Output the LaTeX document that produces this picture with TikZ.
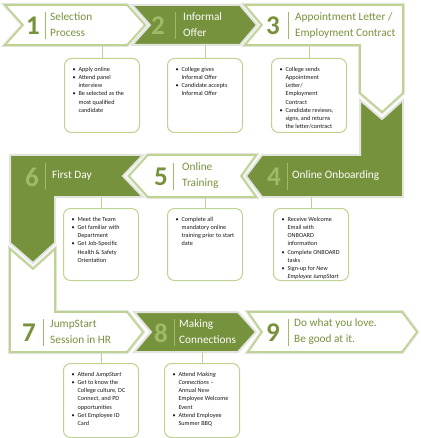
\documentclass[tikz,border=0pt]{standalone}
\usepackage{fontspec}
\setmainfont{Carlito}
\usetikzlibrary{positioning}
\definecolor{olive}{RGB}{118,146,60}
\definecolor{olivelt}{RGB}{160,186,104}
\definecolor{rim}{RGB}{190,211,146}
\definecolor{shade}{RGB}{226,228,222}
\definecolor{ink}{RGB}{25,25,25}
\tikzset{
  wshape/.style ={fill=white, draw=rim, line width=1.7pt, preaction={draw=shade, line width=4pt}},
  gshape/.style ={fill=olive, draw=shade, line width=2pt},
  wnum/.style   ={font=\fontsize{27}{27}\selectfont\bfseries, color=olive, inner sep=0pt},
  gnum/.style   ={wnum, color=olivelt},
  wtitle/.style ={font=\fontsize{11.3}{16}\selectfont, color=olive, anchor=west, align=left, inner sep=0pt},
  gtitle/.style ={wtitle, color=white},
  wsep/.style   ={draw=olivelt, line width=0.8pt},
  gsep/.style   ={draw=olivelt, line width=0.8pt},
  box/.style    ={draw=rim, line width=1pt, rounded corners=7pt, fill=white, anchor=north,
                  inner xsep=8pt, inner ysep=7pt, font=\fontsize{6.2}{8.2}\selectfont, text=ink},
  link/.style   ={draw=rim, line width=0.8pt},
}

\begin{document}
\begin{tikzpicture}[x=1pt, y=-1pt]
\useasboundingbox (0,0) rectangle (420,438);

% row 1
\draw[wshape] (5,5) -- (127,5) -- (145,25) -- (127,45) -- (5,45) -- (23,25) -- cycle;
\draw[gshape] (132,5) -- (240,5) -- (257,25) -- (240,45) -- (132,45) -- (150,25) -- cycle;
\draw[wshape] (245,5) -- (403,5) -- (403,93) -- (382,112) -- (360,93) -- (360,45) -- (245,45) -- (262,25) -- cycle;

% row 2
\draw[gshape] (360,100) -- (382,119) -- (403,100) -- (403,197) -- (262,197) -- (246,176) -- (262,155) -- (360,155) -- cycle;
\draw[wshape] (148,155) -- (256,155) -- (241,176) -- (256,197) -- (148,197) -- (129,176) -- cycle;
\draw[gshape] (10,155) -- (143,155) -- (123,176) -- (143,197) -- (55,197) -- (55,243) -- (33,263) -- (10,243) -- cycle;

% row 3
\draw[wshape] (10,249) -- (33,269) -- (55,249) -- (55,312) -- (127,312) -- (143,332) -- (127,352) -- (10,352) -- cycle;
\draw[gshape] (134,312) -- (238,312) -- (256,332) -- (238,352) -- (134,352) -- (151,332) -- cycle;
\draw[wshape] (248,312) -- (402,312) -- (417,332) -- (402,352) -- (248,352) -- (262,332) -- cycle;

% headings
\node[wnum] (num1) at (33,26) {1};
\draw[wsep] (45,12) -- (45,39);
\node[wtitle] (ttl1) at (50,25) {Selection\\Process};
\node[gnum] (num2) at (158,26) {2};
\draw[gsep] (175,12) -- (175,39);
\node[gtitle] (ttl2) at (183,25) {Informal\\Offer};
\node[wnum] (num3) at (273,26) {3};
\draw[wsep] (288,12) -- (288,39);
\node[wtitle] (ttl3) at (295,25) {Appointment Letter /\\Employment Contract};

\node[gnum] (num4) at (274,177) {4};
\draw[gsep] (287,163) -- (287,190);
\node[gtitle] (ttl4) at (292,176) {Online Onboarding};
\node[wnum] (num5) at (161,177) {5};
\draw[wsep] (173,163) -- (173,190);
\node[wtitle] (ttl5) at (182,176) {Online\\Training};
\node[gnum] (num6) at (32,177) {6};
\draw[gsep] (45,163) -- (45,190);
\node[gtitle] (ttl6) at (52,176) {First Day};

\node[wnum] (num7) at (29,333) {7};
\draw[wsep] (43,319) -- (43,346);
\node[wtitle] (ttl7) at (50,332) {JumpStart\\Session in HR};
\node[gnum] (num8) at (161,333) {8};
\draw[gsep] (174,319) -- (174,346);
\node[gtitle] (ttl8) at (179,332) {Making\\Connections};
\node[wnum] (num9) at (273,333) {9};
\draw[wsep] (288,319) -- (288,346);
\node[wtitle] (ttl9) at (294,332) {Do what you love.\\Be good at it.};

% boxes
\node[box] (box1) at (102,58) {\parbox[c][60pt][t]{59pt}{\begin{tabular}{@{}l@{\hspace{3pt}}l@{}}
\textbullet & Apply online\\
\textbullet & Attend panel\\
            & interview\\
\textbullet & Be selected as the\\
            & most qualified\\
            & candidate
\end{tabular}}};
\node[box] (box2) at (205,58) {\parbox[c][60pt][t]{59pt}{\begin{tabular}{@{}l@{\hspace{3pt}}l@{}}
\textbullet & College gives\\
            & Informal Offer\\
\textbullet & Candidate accepts\\
            & Informal Offer
\end{tabular}}};
\node[box] (box3) at (309,58) {\parbox[c][60pt][t]{59pt}{\begin{tabular}{@{}l@{\hspace{3pt}}l@{}}
\textbullet & College sends\\
            & Appointment\\
            & Letter/\\
            & Employment\\
            & Contract\\
\textbullet & Candidate reviews,\\
            & signs, and returns\\
            & the letter/contract
\end{tabular}}};

\node[box] (box6) at (101,208) {\parbox[c][58pt][t]{59pt}{\begin{tabular}{@{}l@{\hspace{3pt}}l@{}}
\textbullet & Meet the Team\\
\textbullet & Get familiar with\\
            & Department\\
\textbullet & Get Job-Specific\\
            & Health \& Safety\\
            & Orientation
\end{tabular}}};
\node[box] (box5) at (205,208) {\parbox[c][58pt][t]{59pt}{\begin{tabular}{@{}l@{\hspace{3pt}}l@{}}
\textbullet & Complete all\\
            & mandatory online\\
            & training prior to start\\
            & date
\end{tabular}}};
\node[box] (box4) at (311,208) {\parbox[c][58pt][t]{59pt}{\begin{tabular}{@{}l@{\hspace{3pt}}l@{}}
\textbullet & Receive Welcome\\
            & Email with\\
            & ONBOARD\\
            & information\\
\textbullet & Complete ONBOARD\\
            & tasks\\
\textbullet & Sign-up for \textit{New}\\
            & \textit{Employee JumpStart}
\end{tabular}}};

\node[box] (box7) at (101,363) {\parbox[c][60pt][t]{59pt}{\begin{tabular}{@{}l@{\hspace{3pt}}l@{}}
\textbullet & Attend \textit{JumpStart}\\
\textbullet & Get to know the\\
            & College culture, DC\\
            & Connect, and PD\\
            & opportunities\\
\textbullet & Get Employee ID\\
            & Card
\end{tabular}}};
\node[box] (box8) at (202,363) {\parbox[c][60pt][t]{59pt}{\begin{tabular}{@{}l@{\hspace{3pt}}l@{}}
\textbullet & Attend \textit{Making}\\
            & \textit{Connections} --\\
            & Annual New\\
            & Employee Welcome\\
            & Event\\
\textbullet & Attend Employee\\
            & Summer BBQ
\end{tabular}}};

% connectors
\coordinate (s1) at (102,45);
\coordinate (s2) at (205,45);
\coordinate (s3) at (309,45);
\coordinate (s6) at (101,197);
\coordinate (s5) at (205,197);
\coordinate (s4) at (311,197);
\coordinate (s7) at (101,352);
\coordinate (s8) at (202,352);
\draw[link] (s1) -- (box1.north);
\draw[link] (s2) -- (box2.north);
\draw[link] (s3) -- (box3.north);
\draw[link] (s6) -- (box6.north);
\draw[link] (s5) -- (box5.north);
\draw[link] (s4) -- (box4.north);
\draw[link] (s7) -- (box7.north);
\draw[link] (s8) -- (box8.north);
\end{tikzpicture}
\end{document}
